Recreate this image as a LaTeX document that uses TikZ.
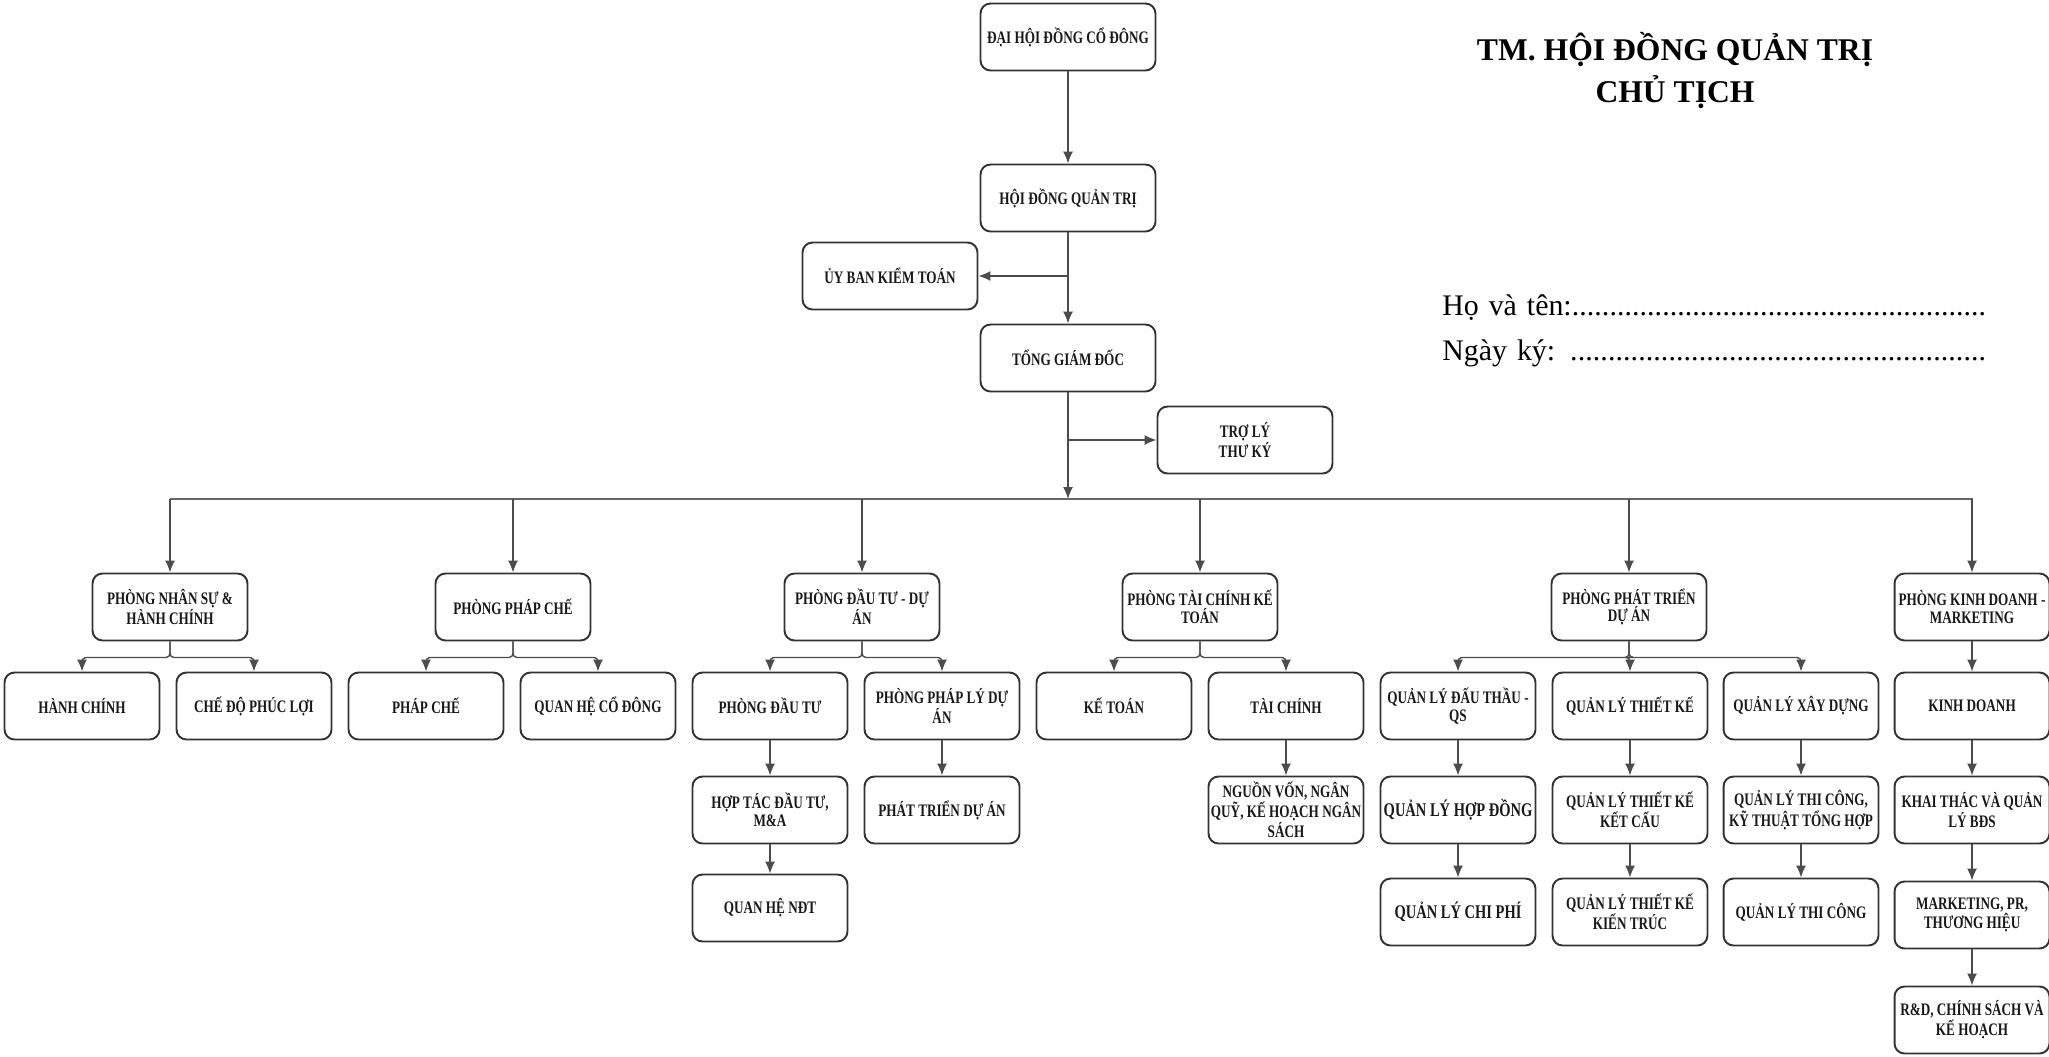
\documentclass[tikz,border=0pt]{standalone}
\usepackage{fontspec}
\setmainfont{Liberation Serif}
\newfontfamily\boxfont[FakeStretch=0.75]{Liberation Serif}
\newcommand\sigline{\xleaders\hbox{.}\hskip 0pt plus 1fill\null}
\usetikzlibrary{arrows.meta}

\begin{document}
\begin{tikzpicture}[x=0.02cm,y=-0.02cm,line join=bevel,>={Latex[length=2.4mm,width=2mm]},
  box/.style={draw=black!80,line width=1.1pt,rounded corners=0.2cm,fill=white,
    minimum width=3.1cm,minimum height=1.34cm,align=center,inner sep=1pt,
    text=black!90,font=\boxfont\bfseries\fontsize{10}{10}\selectfont},
  wide/.style={box,minimum width=3.5cm},
  big/.style={font=\boxfont\bfseries\fontsize{11}{11}\selectfont},
  link/.style={draw=black!70,line width=0.8pt},
  split/.style={link,rounded corners=0.08cm},
  bus/.style={draw=black!60,line width=1.6pt},
  title/.style={anchor=base,inner sep=0pt,font=\bfseries\fontsize{18}{18}\selectfont},
  sign/.style={anchor=base west,inner sep=0pt,text width=10.88cm,
    font=\fontsize{17}{17}\selectfont}]

  \useasboundingbox (0,0) rectangle (2049,1056);

  \node[wide] (dhcd) at (1068,37) {ĐẠI HỘI ĐỒNG CỔ ĐÔNG};
  \node[wide] (hdqt) at (1068,198) {HỘI ĐỒNG QUẢN TRỊ};
  \node[wide] (tgd) at (1068,358) {TỔNG GIÁM ĐỐC};
  \node[wide] (ubkt) at (890,276) {ỦY BAN KIỂM TOÁN};
  \node[wide] (tlty) at (1245,440) {TRỢ LÝ\\THƯ KÝ};

  \coordinate (busL) at (170,499);
  \coordinate (busR) at (1973,499);
  \coordinate (busC) at (1068,499);

  \node[box] (pns) at (170,607) {PHÒNG NHÂN SỰ \&\\HÀNH CHÍNH};
  \node[box] (ppc) at (513,607) {PHÒNG PHÁP CHẾ};
  \node[box] (pdt) at (862,607) {PHÒNG ĐẦU TƯ - DỰ\\ÁN};
  \node[box] (ptc) at (1200,607) {PHÒNG TÀI CHÍNH KẾ\\TOÁN};
  \node[box] (pptda) at (1629,607) {PHÒNG PHÁT TRIỂN\\DỰ ÁN};
  \node[box] (pkd) at (1972,607) {PHÒNG KINH DOANH -\\MARKETING};

  \node[box] (hc) at (82,706) {HÀNH CHÍNH};
  \node[box] (cdpl) at (254,706) {CHẾ ĐỘ PHÚC LỢI};
  \node[box] (phapche) at (426,706) {PHÁP CHẾ};
  \node[box] (qhcd) at (598,706) {QUAN HỆ CỔ ĐÔNG};
  \node[box] (pdtu) at (770,706) {PHÒNG ĐẦU TƯ};
  \node[box] (pplda) at (942,706) {PHÒNG PHÁP LÝ DỰ\\ÁN};
  \node[box] (ketoan) at (1114,706) {KẾ TOÁN};
  \node[box] (taichinh) at (1286,706) {TÀI CHÍNH};
  \node[box] (qldt) at (1458,706) {QUẢN LÝ ĐẤU THẦU -\\QS};
  \node[box] (qltk) at (1630,706) {QUẢN LÝ THIẾT KẾ};
  \node[box] (qlxd) at (1801,706) {QUẢN LÝ XÂY DỰNG};
  \node[box] (kd) at (1972,706) {KINH DOANH};

  \node[box] (htdt) at (770,810) {HỢP TÁC ĐẦU TƯ,\\M\&A};
  \node[box] (ptda) at (942,810) {PHÁT TRIỂN DỰ ÁN};
  \node[box] (nguonvon) at (1286,810) {NGUỒN VỐN, NGÂN\\QUỸ, KẾ HOẠCH NGÂN\\SÁCH};
  \node[box,big] (qlhd) at (1458,810) {QUẢN LÝ HỢP ĐỒNG};
  \node[box] (qltkkc) at (1630,810) {QUẢN LÝ THIẾT KẾ\\KẾT CẤU};
  \node[box] (qltc) at (1801,810) {QUẢN LÝ THI CÔNG,\\KỸ THUẬT TỔNG HỢP};
  \node[box] (ktql) at (1972,810) {KHAI THÁC VÀ QUẢN\\LÝ BĐS};

  \node[box] (qhndt) at (770,908) {QUAN HỆ NĐT};
  \node[box,big] (qlcp) at (1458,912) {QUẢN LÝ CHI PHÍ};
  \node[box] (qltkkt) at (1630,912) {QUẢN LÝ THIẾT KẾ\\KIẾN TRÚC};
  \node[box] (qlthicong) at (1801,912) {QUẢN LÝ THI CÔNG};
  \node[box] (mkt) at (1972,915) {MARKETING, PR,\\THƯƠNG HIỆU};

  \node[box] (rd) at (1972,1020) {R\&D, CHÍNH SÁCH VÀ\\KẾ HOẠCH};

  \node[title] (tm) at (1675,60) {TM. HỘI ĐỒNG QUẢN TRỊ};
  \node[title] (ct) at (1675,102) {CHỦ TỊCH};
  \node[sign] (hoten) at (1442,315) {Họ và tên:\sigline};
  \node[sign] (ngayky) at (1442,360) {Ngày ký: \sigline};

  \draw[link,->] (dhcd) -- (hdqt);
  \draw[link,->] (hdqt) -- (tgd);
  \draw[link,->] (hdqt.south |- ubkt) -- (ubkt);
  \draw[link,->] (tgd) -- (busC);
  \draw[link,->] (tgd.south |- tlty) -- (tlty);

  \draw[bus] (busL) -- (busR);
  \foreach \d in {pns,ppc,pdt,ptc,pptda,pkd}
    \draw[link,->] (\d |- busL) -- (\d);

  \foreach \a/\b in {pns/hc,pns/cdpl,ppc/phapche,ppc/qhcd,pdt/pdtu,pdt/pplda,
    ptc/ketoan,ptc/taichinh,pptda/qldt,pptda/qltk,pptda/qlxd}
    \draw[split,->] (\a.south) -- ++(0,16) -| (\b.north);

  \foreach \a/\b in {pkd/kd,pdtu/htdt,htdt/qhndt,pplda/ptda,taichinh/nguonvon,
    qldt/qlhd,qlhd/qlcp,qltk/qltkkc,qltkkc/qltkkt,qlxd/qltc,qltc/qlthicong,
    kd/ktql,ktql/mkt,mkt/rd}
    \draw[link,->] (\a) -- (\b);

\end{tikzpicture}
\end{document}
